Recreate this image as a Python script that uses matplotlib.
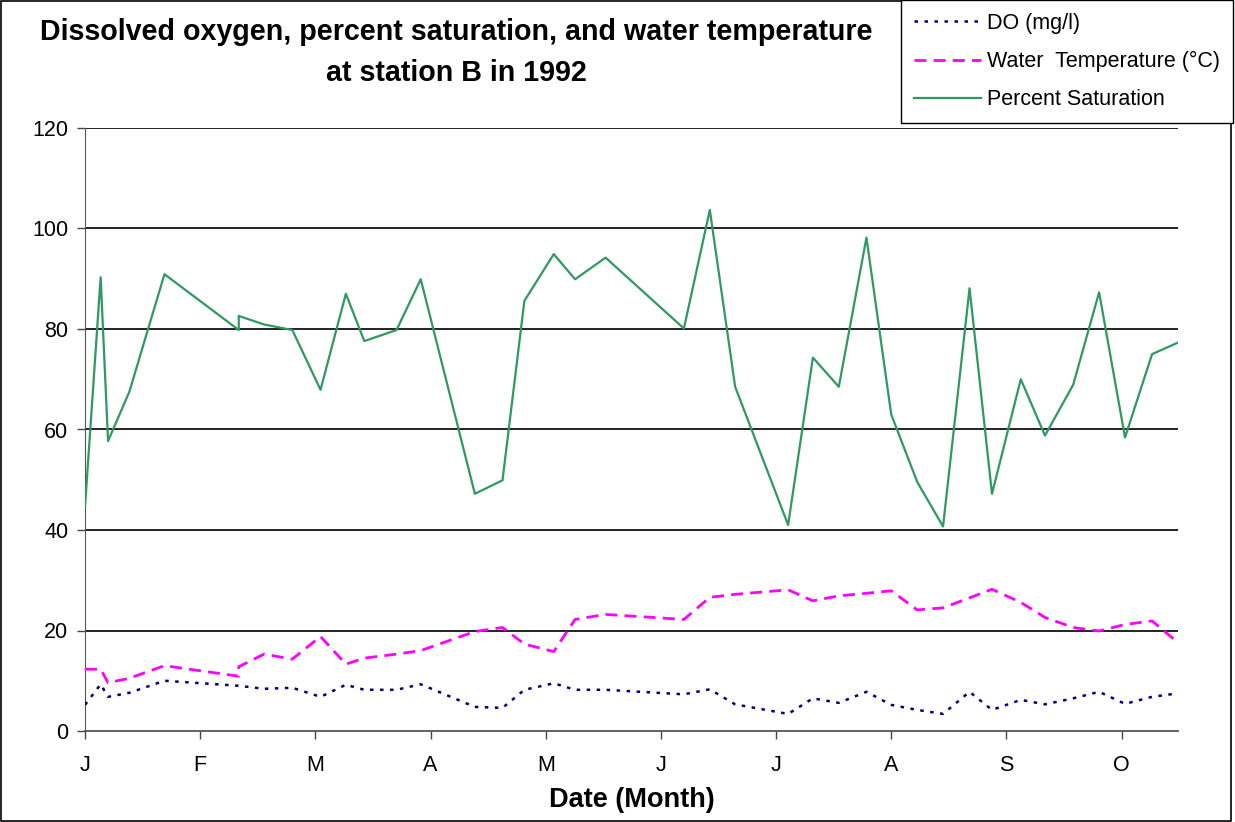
import matplotlib
matplotlib.use("Agg")
import matplotlib.pyplot as plt
from matplotlib.patches import Rectangle

plt.rcParams['font.family'] = ['Liberation Sans', 'DejaVu Sans']

# sample position in months after 1 Jan 1992 (0 = J, 1 = F, ...)
month_pos = [0.0, 0.136, 0.20, 0.385, 0.69, 1.335, 1.335, 1.555, 1.80, 2.045,
             2.265, 2.425, 2.705, 2.915, 3.385, 3.625, 3.815, 4.07, 4.255, 4.52,
             5.20, 5.425, 5.645, 6.105, 6.32, 6.545, 6.785, 7.00, 7.225, 7.45,
             7.68, 7.875, 8.125, 8.335, 8.58, 8.805, 9.03, 9.265, 9.49]

do_mgl = [5.2, 9.3, 6.8, 7.6, 10.0, 9.0, 9.0, 8.4, 8.6, 6.8,
          9.2, 8.2, 8.2, 9.3, 4.8, 4.6, 8.2, 9.5, 8.2, 8.2,
          7.3, 8.3, 5.3, 3.4, 6.5, 5.6, 7.8, 5.2, 4.2, 3.4,
          7.8, 4.2, 6.2, 5.3, 6.5, 7.8, 5.4, 6.8, 7.5]

water_temp = [12.3, 12.3, 9.6, 10.5, 13.0, 10.9, 12.8, 15.3, 14.3, 18.8,
              13.3, 14.5, 15.3, 16.0, 19.8, 20.6, 17.3, 15.8, 22.2, 23.2,
              22.2, 26.6, 27.2, 28.1, 25.9, 26.9, 27.4, 27.9, 24.1, 24.5,
              26.5, 28.2, 25.6, 22.6, 20.6, 19.9, 21.2, 21.9, 17.6]

pct_sat = [44.6, 90.3, 57.7, 67.5, 90.9, 79.8, 82.6, 80.9, 79.8, 67.9,
           87.0, 77.6, 79.8, 89.9, 47.2, 49.9, 85.6, 94.9, 89.9, 94.2,
           80.1, 103.7, 68.5, 41.0, 74.3, 68.5, 98.2, 63.0, 49.6, 40.7,
           88.1, 47.2, 70.0, 58.8, 68.9, 87.3, 58.4, 75.0, 77.3]

month_labels = ['J', 'F', 'M', 'A', 'M', 'J', 'J', 'A', 'S', 'O']
y_ticks = [0, 20, 40, 60, 80, 100, 120]

W, H = 1235, 822
fig = plt.figure(figsize=(W / 100, H / 100), dpi=100)
ax = fig.add_axes([85 / W, 1 - 731 / H, (1178 - 85) / W, (731 - 128) / H])

for yv in y_ticks[1:]:
    ax.axhline(yv, color='#111111', lw=1.3, zorder=1)

l1, = ax.plot(month_pos, do_mgl, color='#000080', lw=1.8,
              dashes=(1.4, 2.6), label='DO (mg/l)', zorder=3)
l2, = ax.plot(month_pos, water_temp, color='#FF00FF', lw=2.0,
              dashes=(4.3, 2.6), label='Water  Temperature (°C)', zorder=3)
l3, = ax.plot(month_pos, pct_sat, color='#2E9960', lw=1.6,
              label='Percent Saturation', zorder=3)

ax.set_xlim(0, 9.49)
ax.set_ylim(0, 120)
ax.set_yticks(y_ticks)
ax.set_xticks(range(len(month_labels)))
ax.set_xticklabels(month_labels)
ax.tick_params(axis='both', labelsize=15.5, length=6, width=1, color='#444444')
ax.tick_params(axis='x', pad=11)
ax.tick_params(axis='y', pad=6)
for s in ['top', 'right']:
    ax.spines[s].set_visible(False)
ax.spines['left'].set_color('#555555')
ax.spines['bottom'].set_color('#555555')
ax.spines['bottom'].set_linewidth(1.3)

ax.set_xlabel('Date (Month)', fontsize=19.5, fontweight='bold', labelpad=8)

fig.text(456 / W, 1 - 32 / H, 'Dissolved oxygen, percent saturation, and water temperature',
         ha='center', va='center', fontsize=20.6, fontweight='bold')
fig.text(456 / W, 1 - 73 / H, 'at station B in 1992',
         ha='center', va='center', fontsize=20.6, fontweight='bold')

leg = fig.legend(handles=[l1, l2, l3], loc='upper right', bbox_to_anchor=(1233 / W, 1.0),
                 fontsize=15.5, frameon=True, fancybox=False, edgecolor='black',
                 framealpha=1, handlelength=3.1, handletextpad=0.3,
                 labelspacing=0.8, borderpad=0.6, borderaxespad=0)
leg.get_frame().set_linewidth(1.0)

fig.patches.append(Rectangle((1 / W, 1 / H), 1 - 5 / W, 1 - 2 / H, transform=fig.transFigure,
                             fill=False, edgecolor='black', lw=1.2))

fig.savefig('out.png', dpi=100)
